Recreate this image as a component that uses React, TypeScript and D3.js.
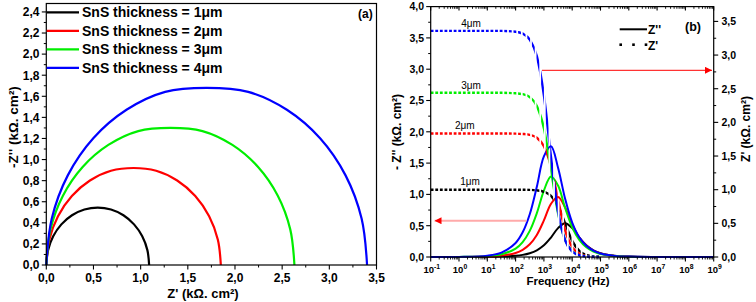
import React from 'react';
import * as d3 from 'd3';

// ---------- DATA ----------
const thicknessLabels = ['1μm', '2μm', '3μm', '4μm'];
const seriesColors = ['#000000', '#ff0000', '#00ee00', '#0000ff'];

// Panel (a): Nyquist points, [Z', -Z''] in kΩ.cm²
const nyq1: [number, number][] = [
  [0, 0], [0.0186, 0.141], [0.073, 0.2725], [0.1596, 0.3854], [0.2725, 0.472], [0.404, 0.5264],
  [0.545, 0.545], [0.686, 0.5264], [0.8175, 0.472], [0.93, 0.3854], [1.017, 0.2725], [1.0714, 0.141], [1.09, 0],
];
const nyq2: [number, number][] = [
  [0, 0], [0.0315, 0.2394], [0.124, 0.4625], [0.271, 0.654], [0.4625, 0.801], [0.6856, 0.8935],
  [0.925, 0.92], [1.1644, 0.8935], [1.3875, 0.801], [1.579, 0.654], [1.726, 0.4625], [1.8185, 0.2394], [1.85, 0],
];
const nyq3: [number, number][] = [
  [0, 0], [0.0448, 0.3403], [0.1762, 0.6575], [0.3852, 0.9298], [0.6575, 1.1388], [0.9747, 1.2702],
  [1.315, 1.30], [1.6553, 1.2702], [1.9725, 1.1388], [2.2448, 0.9298], [2.4538, 0.6575], [2.5852, 0.3403], [2.63, 0],
];
const nyq4: [number, number][] = [
  [0, 0], [0.058, 0.44], [0.2278, 0.85], [0.498, 1.202], [0.85, 1.472], [1.26, 1.642],
  [1.70, 1.68], [2.14, 1.642], [2.55, 1.472], [2.902, 1.202], [3.172, 0.85], [3.342, 0.44], [3.40, 0],
];
const nyqXTicks = [0, 0.5, 1, 1.5, 2, 2.5, 3, 3.5];
const nyqYTicks = [0, 0.2, 0.4, 0.6, 0.8, 1.0, 1.2, 1.4, 1.6, 1.8, 2.0, 2.2, 2.4];

// Panel (b): Bode data
const freqs = [0.1, 1, 10, 31.62, 100, 177.8, 316.2, 562.3, 1000, 1778, 3162, 5623, 1e4, 17780, 31620, 56230, 1e5, 3.162e5, 1e6, 1e7, 1e8, 1e9];
const zImag1 = [0, 0, 0.0019, 0.006, 0.019, 0.034, 0.061, 0.107, 0.186, 0.311, 0.461, 0.54, 0.461, 0.311, 0.186, 0.107, 0.061, 0.019, 0.006, 0.0006, 0, 0];
const zImag2 = [0, 0.0007, 0.0065, 0.021, 0.065, 0.115, 0.203, 0.353, 0.584, 0.849, 0.958, 0.79, 0.521, 0.31, 0.178, 0.1005, 0.0567, 0.018, 0.0057, 0.0006, 0, 0];
const zImag3 = [0.0001, 0.001, 0.014, 0.043, 0.135, 0.239, 0.417, 0.7, 1.062, 1.287, 1.141, 0.784, 0.474, 0.273, 0.155, 0.087, 0.049, 0.016, 0.005, 0.0005, 0, 0];
const zImag4 = [0.0002, 0.002, 0.022, 0.071, 0.224, 0.394, 0.683, 1.122, 1.607, 1.768, 1.426, 0.93, 0.55, 0.315, 0.178, 0.1, 0.056, 0.018, 0.006, 0.001, 0, 0];
// Z' (right axis), up to 1e5 Hz
const zReal1 = [1, 1, 1, 1, 1, 0.999, 0.997, 0.99, 0.969, 0.909, 0.76, 0.5, 0.24, 0.0909, 0.0307, 0.0099, 0.0032];
const zReal2 = [1.835, 1.835, 1.835, 1.835, 1.833, 1.828, 1.814, 1.771, 1.646, 1.346, 0.854, 0.396, 0.147, 0.049, 0.0158, 0.005, 0.0016];
const zReal3 = [2.44, 2.44, 2.44, 2.44, 2.433, 2.419, 2.375, 2.245, 1.913, 1.304, 0.65, 0.251, 0.0855, 0.0277, 0.0088, 0.0028, 0.0009];
const zReal4 = [3.36, 3.36, 3.36, 3.359, 3.347, 3.318, 3.231, 2.984, 2.403, 1.487, 0.675, 0.247, 0.082, 0.026, 0.0084, 0.0027, 0.0008];
const bodeLeftTicks = [0, 0.5, 1, 1.5, 2, 2.5, 3, 3.5, 4];
const bodeRightTicks = [0, 0.5, 1, 1.5, 2, 2.5, 3, 3.5];
const decadeExps = [-1, 0, 1, 2, 3, 4, 5, 6, 7, 8, 9];
// label positions of the thickness annotations: [freq, Z'' left-axis value]
const thickAnnot: [number, number][] = [[2.45, 1.15], [1.6, 2.04], [2.65, 2.69], [2.65, 3.68]];

const FONT = '"Liberation Sans", Arial, Helvetica, sans-serif';
const fmt = (v: number) => d3.format('.1f')(v).replace('.', ',');

export default function App() {
  // ---------- Panel (a) ----------
  const ax = d3.scaleLinear().domain([0, 3.5]).range([46.3, 376.5]);
  const ay = d3.scaleLinear().domain([0, 2.48]).range([265, 3.5]);
  const nyLine = d3
    .line<[number, number]>()
    .x((d) => ax(d[0]))
    .y((d) => ay(d[1]))
    .curve(d3.curveCatmullRom.alpha(0.5));
  const nyqSeries = [nyq1, nyq2, nyq3, nyq4];
  const xMinorA = d3.range(0.25, 3.5, 0.5);
  const yMinorA = d3.range(0.1, 2.45, 0.2);

  // ---------- Panel (b) ----------
  const bx = d3.scaleLog().domain([0.1, 1e9]).range([430.7, 713.7]);
  const byL = d3.scaleLinear().domain([0, 4]).range([257, 6.6]);
  const byR = d3.scaleLinear().domain([0, 3.72]).range([257, 6.6]);
  const imagLine = d3
    .line<number>()
    .x((_, i) => bx(freqs[i]))
    .y((d) => byL(d))
    .curve(d3.curveCatmullRom.alpha(0.5));
  const realLine = d3
    .line<number>()
    .x((_, i) => bx(freqs[i]))
    .y((d) => byR(d))
    .curve(d3.curveMonotoneX);
  const imagSeries = [zImag1, zImag2, zImag3, zImag4];
  const realSeries = [zReal1, zReal2, zReal3, zReal4];
  const logMinor: number[] = [];
  decadeExps.slice(0, -1).forEach((e) => {
    for (let m = 2; m <= 9; m++) logMinor.push(m * Math.pow(10, e));
  });
  const leftMinorB = d3.range(0.25, 4, 0.5);
  const rightMinorB = d3.range(0.25, 3.72, 0.5);
  const [bL, bR] = bx.range();
  const bTop = 6.6, bBot = 257;
  const stripeX = d3.range(bL, bR, 4.6);

  return (
    <svg width={756} height={302} style={{ position: 'absolute', left: 0, top: 0, background: '#fff' }} fontFamily={FONT}>
      <defs>
        <clipPath id="dotClip">
          {stripeX.map((x, i) => (
            <rect key={i} x={x} y={0} width={2.8} height={302} />
          ))}
        </clipPath>
        <marker id="arrR" viewBox="0 0 10 10" refX="10" refY="5" markerWidth="7" markerHeight="7" orient="auto" markerUnits="userSpaceOnUse">
          <path d="M0,0 L10,5 L0,10 z" fill="#ff0000" />
        </marker>
        <marker id="arrL" viewBox="0 0 10 10" refX="10" refY="5" markerWidth="7" markerHeight="7" orient="auto" markerUnits="userSpaceOnUse">
          <path d="M0,0 L10,5 L0,10 z" fill="#ff0000" />
        </marker>
      </defs>

      {/* ===== Panel (a) ===== */}
      <g>
        {nyqSeries.map((s, i) => (
          <path key={i} d={nyLine(s) || ''} fill="none" stroke={seriesColors[i]} strokeWidth={2.2} />
        ))}
        <rect x={ax(0)} y={ay(2.48)} width={ax(3.5) - ax(0)} height={ay(0) - ay(2.48)} fill="none" stroke="#000" strokeWidth={1.2} />
        {/* x ticks */}
        {nyqXTicks.map((t) => (
          <g key={t}>
            <line x1={ax(t)} x2={ax(t)} y1={ay(0)} y2={ay(0) + 4.5} stroke="#000" strokeWidth={1.1} />
            <text x={ax(t)} y={281.5} textAnchor="middle" fontSize={12} fontWeight="bold">{fmt(t)}</text>
          </g>
        ))}
        {xMinorA.map((t) => (
          <line key={t} x1={ax(t)} x2={ax(t)} y1={ay(0)} y2={ay(0) + 2.5} stroke="#000" strokeWidth={1} />
        ))}
        {nyqYTicks.map((t) => (
          <g key={t}>
            <line x1={ax(0) - 4.5} x2={ax(0)} y1={ay(t)} y2={ay(t)} stroke="#000" strokeWidth={1.1} />
            <text x={39.5} y={ay(t) + 4.3} textAnchor="end" fontSize={12} fontWeight="bold">{fmt(t)}</text>
          </g>
        ))}
        {yMinorA.map((t) => (
          <line key={t} x1={ax(0) - 2.5} x2={ax(0)} y1={ay(t)} y2={ay(t)} stroke="#000" strokeWidth={1} />
        ))}
        <text x={203} y={298} textAnchor="middle" fontSize={13} fontWeight="bold">Z' (kΩ. cm²)</text>
        <text transform="translate(13,127) rotate(-90)" textAnchor="middle" dominantBaseline="central" fontSize={13.5} fontWeight="bold">-Z'' (kΩ. cm²)</text>
        {/* legend */}
        {thicknessLabels.map((lab, i) => {
          const y = 12.3 + i * 18.5;
          return (
            <g key={lab}>
              <line x1={46.7} x2={79} y1={y} y2={y} stroke={seriesColors[i]} strokeWidth={2.2} />
              <text x={82} y={y + 5} fontSize={14} fontWeight="bold">{`SnS thickness = ${lab}`}</text>
            </g>
          );
        })}
        <text x={358} y={17.5} fontSize={12} fontWeight="bold">(a)</text>
      </g>

      {/* ===== Panel (b) ===== */}
      <g>
        {/* Z'' solid */}
        {imagSeries.map((s, i) => (
          <path key={i} d={imagLine(s) || ''} fill="none" stroke={seriesColors[i]} strokeWidth={2} />
        ))}
        {/* Z' dotted */}
        <g clipPath="url(#dotClip)">
          {realSeries.map((s, i) => (
            <path key={i} d={realLine(s) || ''} fill="none" stroke={seriesColors[i]} strokeWidth={2.4} />
          ))}
        </g>
        <rect x={bL} y={bTop} width={bR - bL} height={bBot - bTop} fill="none" stroke="#000" strokeWidth={1.2} />
        {/* bottom / top ticks */}
        {decadeExps.map((e) => {
          const x = bx(Math.pow(10, e));
          return (
            <g key={e}>
              <line x1={x} x2={x} y1={bBot} y2={bBot + 4.5} stroke="#000" strokeWidth={1.1} />
              <line x1={x} x2={x} y1={bTop} y2={bTop + 4} stroke="#000" strokeWidth={1.1} />
              <text x={x + 1} y={272.5} textAnchor="middle" fontWeight="bold" fontSize={9.5}>
                10<tspan dy={-4} fontSize={6.8}>{e}</tspan>
              </text>
            </g>
          );
        })}
        {logMinor.map((v, i) => (
          <g key={i}>
            <line x1={bx(v)} x2={bx(v)} y1={bBot} y2={bBot + 2.5} stroke="#000" strokeWidth={0.9} />
            <line x1={bx(v)} x2={bx(v)} y1={bTop} y2={bTop + 2.2} stroke="#000" strokeWidth={0.9} />
          </g>
        ))}
        {/* left ticks */}
        {bodeLeftTicks.map((t) => (
          <g key={t}>
            <line x1={bL - 4.5} x2={bL} y1={byL(t)} y2={byL(t)} stroke="#000" strokeWidth={1.1} />
            <text x={424} y={byL(t) + 3.8} textAnchor="end" fontSize={10.5} fontWeight="bold">{fmt(t)}</text>
          </g>
        ))}
        {leftMinorB.map((t) => (
          <line key={t} x1={bL - 2.5} x2={bL} y1={byL(t)} y2={byL(t)} stroke="#000" strokeWidth={1} />
        ))}
        {/* right ticks */}
        {bodeRightTicks.map((t) => (
          <g key={t}>
            <line x1={bR} x2={bR + 4.5} y1={byR(t)} y2={byR(t)} stroke="#000" strokeWidth={1.1} />
            <text x={721.5} y={byR(t) + 3.8} textAnchor="start" fontSize={10.5} fontWeight="bold">{fmt(t)}</text>
          </g>
        ))}
        {rightMinorB.map((t) => (
          <line key={t} x1={bR} x2={bR + 2.5} y1={byR(t)} y2={byR(t)} stroke="#000" strokeWidth={1} />
        ))}
        <text x={568} y={285} textAnchor="middle" fontSize={11.5} fontWeight="bold">Frequency (Hz)</text>
        <text transform="translate(397,132) rotate(-90)" textAnchor="middle" dominantBaseline="central" fontSize={12} fontWeight="bold">- Z'' (kΩ. cm²)</text>
        <text transform="translate(746,129) rotate(-90)" textAnchor="middle" dominantBaseline="central" fontSize={12} fontWeight="bold">Z' (kΩ. cm²)</text>
        {/* thickness annotations */}
        {thicknessLabels.map((lab, i) => (
          <text key={lab} x={bx(thickAnnot[i][0])} y={byL(thickAnnot[i][1])} textAnchor="middle" fontSize={10}>{lab}</text>
        ))}
        {/* legend */}
        <line x1={619.7} x2={647} y1={29.3} y2={29.3} stroke="#000" strokeWidth={2} />
        <text x={648} y={33.5} fontSize={12} fontWeight="bold">Z''</text>
        {[620.7, 633.5, 646].map((x) => (
          <rect key={x} x={x - 1.3} y={43.4} width={2.6} height={2.6} fill="#000" />
        ))}
        <text x={648} y={49.5} fontSize={12} fontWeight="bold">Z'</text>
        <text x={685} y={30.5} fontSize={12.5} fontWeight="bold">(b)</text>
        {/* arrows */}
        <line x1={542} x2={712} y1={70.3} y2={70.3} stroke="#ff0000" strokeWidth={1} markerEnd="url(#arrR)" />
        <line x1={526.5} x2={434.5} y1={220.7} y2={220.7} stroke="#ffaaaa" strokeWidth={2} markerEnd="url(#arrL)" />
      </g>
    </svg>
  );
}
